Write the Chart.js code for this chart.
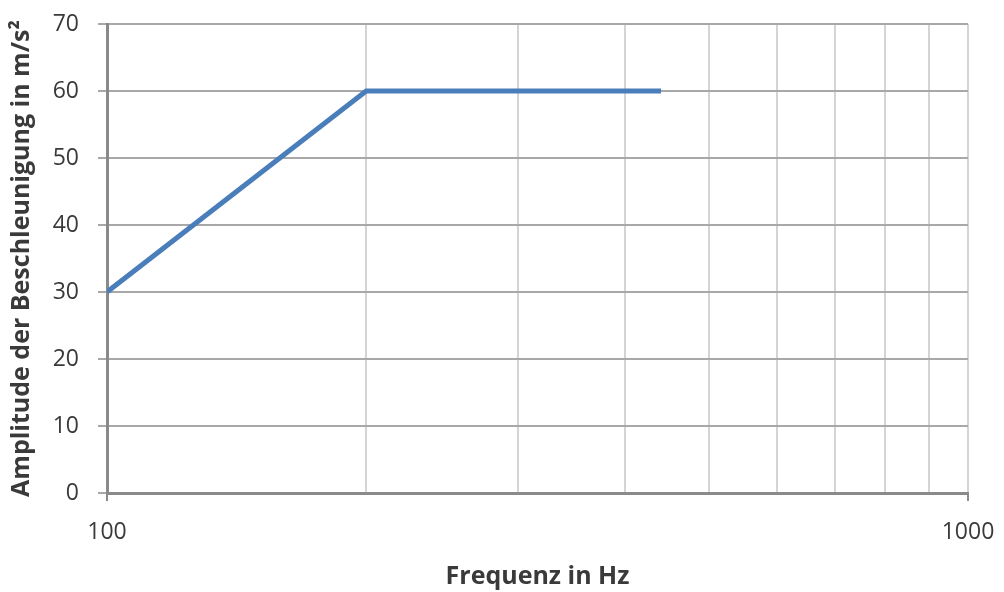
<!DOCTYPE html>
<html>
<head>
<meta charset="utf-8">
<script src="https://cdn.jsdelivr.net/npm/chart.js@4.4.1/dist/chart.umd.min.js"></script>
<style>
  html, body { margin: 0; padding: 0; background: #fff; }
  #wrap { width: 1004px; height: 592px; }
</style>
</head>
<body>
<div id="wrap"><canvas id="chart" width="1004" height="592"></canvas></div>
<script>
// Werte
const frequencies = [100, 200, 440];
const amplitudes = [30, 60, 60];
const xGridValues = [100, 200, 300, 400, 500, 600, 700, 800, 900, 1000];
const xTickLabels = [100, 1000];
const yMin = 0, yMax = 70, yStep = 10;

const fontFamily = '"Open Sans", "Liberation Sans", sans-serif';
const textColor = '#3a3a3a';

const ctx = document.getElementById('chart').getContext('2d');
new Chart(ctx, {
    type: 'line',
    data: {
        datasets: [{
            data: frequencies.map((f, i) => ({ x: f, y: amplitudes[i] })),
            borderColor: '#4a7ebb',
            borderWidth: 5,
            pointRadius: 0,
            fill: false,
            tension: 0
        }]
    },
    options: {
        responsive: false,
        animation: false,
        devicePixelRatio: 1,
        layout: { padding: { top: 24, right: 36, left: 0, bottom: 0 } },
        plugins: {
            legend: { display: false },
            tooltip: { enabled: false }
        },
        scales: {
            x: {
                type: 'logarithmic',
                min: 100,
                max: 1000,
                afterBuildTicks: scale => {
                    scale.ticks = xGridValues.map(v => ({ value: v }));
                },
                afterFit: scale => {
                    scale.height = 99;
                    scale.paddingLeft = 0;
                    scale.paddingRight = 0;
                },
                ticks: {
                    autoSkip: false,
                    maxRotation: 0,
                    padding: 18,
                    color: textColor,
                    font: { family: fontFamily, size: 23 },
                    callback: value => xTickLabels.includes(value) ? String(value) : ''
                },
                grid: {
                    color: '#d4d4d4',
                    lineWidth: 2,
                    tickLength: 8,
                    tickColor: c => (c.tick && xTickLabels.includes(c.tick.value)) ? '#8a8a8a' : 'rgba(0,0,0,0)',
                    tickWidth: 2
                },
                border: { color: '#8a8a8a', width: 3 },
                title: {
                    display: true,
                    text: 'Frequenz in Hz',
                    color: textColor,
                    font: { family: fontFamily, size: 25, weight: 'bold' },
                    padding: { top: 0, bottom: 0 }
                }
            },
            y: {
                min: yMin,
                max: yMax,
                afterFit: scale => {
                    scale.width = 107;
                    scale.paddingTop = 0;
                    scale.paddingBottom = 0;
                },
                ticks: {
                    stepSize: yStep,
                    padding: 19,
                    color: textColor,
                    font: { family: fontFamily, size: 23 }
                },
                grid: {
                    color: '#a8a8a8',
                    lineWidth: 2,
                    tickLength: 9,
                    tickColor: '#a8a8a8'
                },
                border: { color: '#8a8a8a', width: 3 },
                title: {
                    display: true,
                    text: 'Amplitude der Beschleunigung in m/s²',
                    color: textColor,
                    font: { family: fontFamily, size: 25, weight: 'bold' },
                    padding: { top: 7, bottom: 0 }
                }
            }
        }
    }
});
</script>
</body>
</html>
